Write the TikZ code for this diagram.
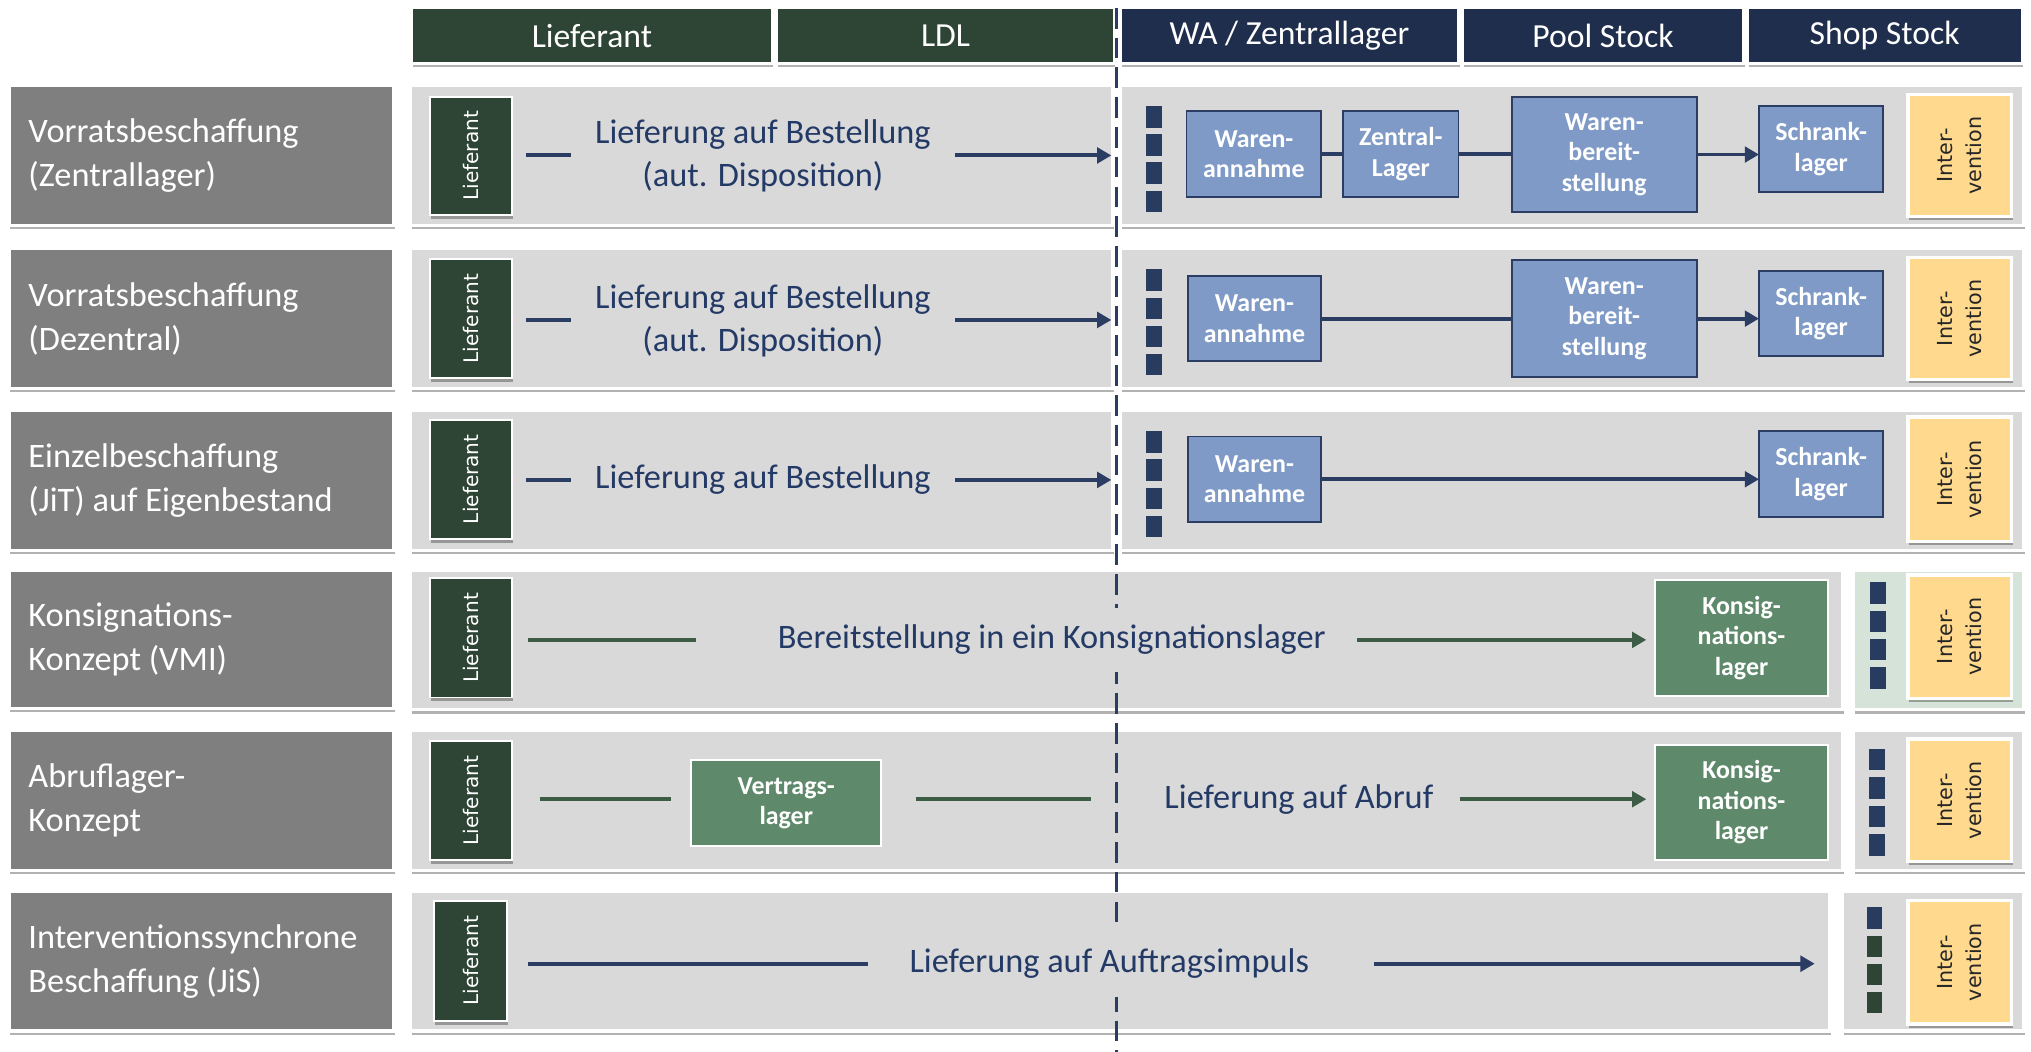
\documentclass[tikz,border=0pt]{standalone}
\usepackage{fontspec}
\setmainfont{Carlito}
\newfontfamily\vfont{DejaVu Sans}
\usetikzlibrary{arrows.meta,shadows}
\definecolor{hgreen}{HTML}{2E4434}
\definecolor{hnavy}{HTML}{1F2E4D}
\definecolor{navytxt}{HTML}{243A66}
\definecolor{lblgray}{HTML}{7F7F7F}
\definecolor{rowgray}{HTML}{D9D9D9}
\definecolor{bluebox}{HTML}{7F9AC6}
\definecolor{blueline}{HTML}{2B3D63}
\definecolor{gbox}{HTML}{5E8A6B}
\definecolor{glinec}{HTML}{3D5C45}
\definecolor{ivyellow}{HTML}{FFD98D}
\definecolor{tintg}{HTML}{D6E3D9}
\definecolor{mknavy}{HTML}{283C5F}
\newcommand\fsMain{\fontsize{26.5}{33}\selectfont}
\newcommand\fsLbl{\fontsize{26.5}{34}\selectfont}
\newcommand\fsHead{\fontsize{26}{31}\selectfont}
\newcommand\fsBox{\fontsize{20}{23.5}\selectfont\bfseries}
\newcommand\fsVert{\vfont\fontsize{15.5}{19}\selectfont}
\newcommand\fsIv{\vfont\fontsize{16}{22}\selectfont}
\begin{document}
\begin{tikzpicture}[x=1pt,y=-1pt,
  base/.style={inner sep=0pt,outer sep=0pt},
  bx/.style n args={4}{at={(#1,#2)},anchor=north west,minimum width=#3,minimum height=#4,base},
  shd/.style={drop shadow={shadow xshift=1pt,shadow yshift=-3pt,opacity=.3,fill=black}},
  hdrG/.style={fill=hgreen,draw=white,line width=2pt,text=white,font=\fsHead,shd},
  hdrN/.style={fill=hnavy,draw=white,line width=2pt,text=white,font=\fsHead,shd},
  lbl/.style={fill=lblgray,draw=white,line width=2.5pt,text=white,font=\fsLbl,align=flush left,text width=267pt,inner xsep=15pt,shd},
  rowb/.style={fill=rowgray,draw=white,line width=2.5pt,shd},
  lief/.style={fill=hgreen,draw=white,line width=1.5pt,shd},
  liefT/.style={rotate=90,text=white,font=\fsVert,base},
  iv/.style={fill=ivyellow,draw=white,line width=2.5pt,shd},
  ivT/.style={rotate=90,font=\fsIv,align=center,text=black!85,base},
  mk/.style={fill=mknavy,minimum width=12pt,minimum height=16.5pt,base,anchor=north west},
  mkg/.style={mk,fill=hgreen},
  bb/.style={fill=bluebox,draw=blueline,line width=1.5pt,text=white,font=\fsBox,align=center},
  gb/.style={fill=gbox,draw=white,line width=1.5pt,text=white,font=\fsBox,align=center},
  mid/.style={base,text=navytxt,font=\fsMain,align=center},
  nline/.style={draw=blueline,line width=3pt},
  narr/.style={nline,-{Triangle[length=11pt,width=12pt]}},
  gln/.style={draw=glinec,line width=3pt},
  garr/.style={gln,-{Triangle[length=11pt,width=12pt]}},
  dline/.style={draw=blueline,line width=2.5pt,dash pattern=on 16pt off 7pt}
]
\useasboundingbox (0,0) rectangle (1568,812);
\fill[white] (0,0) rectangle (1568,812);

% headers
\node[bx={318}{6}{278}{43},hdrG] (H1) {Lieferant};
\node[bx={600}{6}{260}{43},hdrG] (H2) {LDL};
\node[bx={865}{6}{261}{43},hdrN] (H3) {WA / Zentrallager};
\node[bx={1129}{6}{217}{43},hdrN] (H4) {Pool Stock};
\node[bx={1349}{6}{212}{43},hdrN] (H5) {Shop Stock};

% left labels
\node[bx={7}{66}{297}{108},lbl] (P1) {Vorratsbeschaffung\\(Zentrallager)};
\node[bx={7}{192}{297}{108},lbl] (P2) {Vorratsbeschaffung\\(Dezentral)};
\node[bx={7}{317}{297}{108},lbl] (P3) {Einzelbeschaffung\\(JiT) auf Eigenbestand};
\node[bx={7}{440}{297}{107},lbl] (P4) {Konsignations-\\Konzept (VMI)};
\node[bx={7}{564}{297}{108},lbl] (P5) {Abruflager-\\Konzept};
\node[bx={7}{688}{297}{108},lbl] (P6) {Interventionssynchrone\\Beschaffung (JiS)};

% row backgrounds
\node[bx={317}{66}{542}{108},rowb] (R1L) {};
\node[bx={865}{66}{697}{108},rowb] (R1R) {};
\node[bx={317}{192}{542}{108},rowb] (R2L) {};
\node[bx={865}{192}{697}{108},rowb] (R2R) {};
\node[bx={317}{317}{542}{108},rowb] (R3L) {};
\node[bx={865}{317}{697}{108},rowb] (R3R) {};
\node[bx={317}{440}{1105.6}{108},rowb] (R4L) {};
\node[bx={1431}{440}{131}{108},rowb,fill=tintg] (R4R) {};
\node[bx={317}{564}{1105.6}{108},rowb] (R5L) {};
\node[bx={1431}{564}{131}{108},rowb] (R5R) {};
\node[bx={317}{688}{1095.6}{108},rowb] (R6L) {};
\node[bx={1422.6}{688}{139.4}{108},rowb] (R6R) {};

% dashed boundary
\coordinate (DT) at (862,6);
\coordinate (DB) at (862,812);
\draw[dline] (DT) -- (DB);

% Lieferant boxes
\node[bx={332}{74.6}{63}{91.4},lief] (L1) {};
\node[bx={332}{200}{63}{92},lief] (L2) {};
\node[bx={332}{324}{63}{92},lief] (L3) {};
\node[bx={332}{446.5}{63}{92},lief] (L4) {};
\node[bx={332}{572}{63}{92},lief] (L5) {};
\node[bx={335}{695.6}{56.5}{92.4},lief] (L6) {};
\foreach \i in {1,...,6}{\node[liefT] (LT\i) at (L\i.center) {Lieferant};}

% Intervention boxes
\node[bx={1473}{73}{80}{94},iv] (I1) {};
\node[bx={1473}{199}{80}{94},iv] (I2) {};
\node[bx={1473}{322}{80}{96},iv] (I3) {};
\node[bx={1473}{444}{80}{95},iv] (I4) {};
\node[bx={1473}{570.5}{80}{94.5},iv] (I5) {};
\node[bx={1473}{695}{80}{95.6},iv] (I6) {};
\foreach \i in {1,...,6}{\node[ivT] (IT\i) at (I\i.center) {Inter-\\vention};}

% markers
\foreach \y [count=\k] in {82,103.7,125.4,147.1}{\node[mk] (m1-\k) at (885,\y) {};}
\foreach \y [count=\k] in {208,229.7,251.4,273.1}{\node[mk] (m2-\k) at (885,\y) {};}
\foreach \y [count=\k] in {333,354.7,376.4,398.1}{\node[mk] (m3-\k) at (885,\y) {};}
\foreach \y [count=\k] in {449.6,471.5,493.4,515.3}{\node[mk] (m4-\k) at (1444,\y) {};}
\foreach \y [count=\k] in {578,600,622,644}{\node[mk] (m5-\k) at (1443,\y) {};}
\node[mk] (m6-1) at (1441,700.5) {};
\foreach \y [count=\k from 2] in {722.3,744.1,765.9}{\node[mkg] (m6-\k) at (1441,\y) {};}

% blue process boxes
\node[bx={916}{86}{104}{66},bb] (WA1) {Waren-\\annahme};
\node[bx={1037}{86}{89}{66},bb] (ZL1) {Zentral-\\Lager};
\node[bx={1167}{74.6}{143}{89.4},bb] (WB1) {Waren-\\bereit-\\stellung};
\node[bx={1358}{82}{96}{66.5},bb] (SL1) {Schrank-\\lager};
\node[bx={917}{213}{103}{66},bb] (WA2) {Waren-\\annahme};
\node[bx={1167}{201}{143}{90},bb] (WB2) {Waren-\\bereit-\\stellung};
\node[bx={1358}{209}{96}{66},bb] (SL2) {Schrank-\\lager};
\node[bx={917}{337}{103}{66},bb] (WA3) {Waren-\\annahme};
\node[bx={1358}{333}{96}{66},bb] (SL3) {Schrank-\\lager};

% green boxes
\node[bx={1278}{448}{133}{89},gb] (K4) {Konsig-\\nations-\\lager};
\node[bx={1278}{575}{133}{89},gb] (K5) {Konsig-\\nations-\\lager};
\node[bx={533.6}{587}{146.8}{66},gb] (VL) {Vertrags-\\lager};

% middle texts
\node[mid] (T1) at (589,120.5) {Lieferung auf Bestellung\\(aut. Disposition)};
\node[mid] (T2) at (589,247.5) {Lieferung auf Bestellung\\(aut. Disposition)};
\node[mid] (T3) at (589,370.5) {Lieferung auf Bestellung};
\node[mid,fill=rowgray,inner ysep=13pt] (T4) at (812,494) {Bereitstellung in ein Konsignationslager};
\node[mid,anchor=west] (T5) at (899,617) {Lieferung auf Abruf};
\node[mid,fill=rowgray,inner ysep=14pt] (T6) at (856.4,744) {Lieferung auf Auftragsimpuls};

\coordinate (A1) at (858,120);
\coordinate (A2) at (858,247);
\coordinate (A3) at (858,370.5);
\coordinate (E6) at (1401,744);

% rows 1-3 left
\draw[nline,shorten <=11pt,shorten >=19pt] (L1.east |- A1) -- (T1.west |- A1);
\draw[narr,shorten <=19pt] (T1.east |- A1) -- (A1);
\draw[nline,shorten <=11pt,shorten >=19pt] (L2.east |- A2) -- (T2.west |- A2);
\draw[narr,shorten <=19pt] (T2.east |- A2) -- (A2);
\draw[nline,shorten <=11pt,shorten >=19pt] (L3.east |- T3.west) -- (T3.west);
\draw[narr,shorten <=19pt] (T3.east) -- (A3);

% rows 1-3 right
\draw[nline] (WA1.east) -- (ZL1.west |- WA1.east);
\draw[nline] (ZL1.east) -- (WB1.west |- ZL1.east);
\draw[narr] (WB1.east) -- (SL1.west |- WB1.east);
\draw[nline] (WA2.east) -- (WB2.west |- WA2.east);
\draw[narr] (WB2.east) -- (SL2.west |- WB2.east);
\draw[narr] (WA3.east) -- (SL3.west |- WA3.east);

% row 4
\draw[gln,shorten <=13pt,shorten >=63pt] (L4.east |- T4.west) -- (T4.west);
\draw[garr,shorten <=24pt,shorten >=7pt] (T4.east) -- (K4.west |- T4.east);

% row 5
\draw[gln,shorten <=22pt,shorten >=15.6pt] (L5.east |- T5.west) -- (VL.west |- T5.west);
\draw[gln,shorten <=26.6pt,shorten >=57pt] (VL.east |- T5.west) -- (T5.west);
\draw[garr,shorten <=21pt,shorten >=7pt] (T5.east) -- (K5.west |- T5.east);

% row 6
\draw[nline,shorten <=16.5pt,shorten >=32pt] (L6.east |- T6.west) -- (T6.west);
\draw[narr,shorten <=50pt] (T6.east) -- (E6);
\end{tikzpicture}
\end{document}
